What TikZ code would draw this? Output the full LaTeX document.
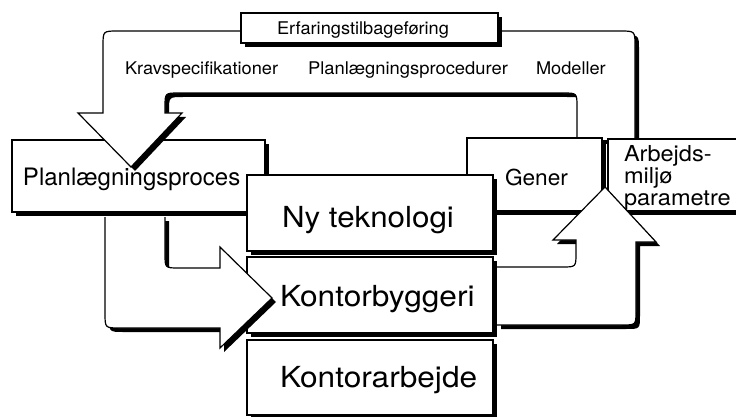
\documentclass[tikz,border=0pt]{standalone}
\usepackage{fontspec}
\setmainfont{TeX Gyre Heros}
\usepackage{graphicx}
\usetikzlibrary{shadows}
\newcommand\xs[2]{\scalebox{#1}[1]{#2}}
\newcommand\fsbig{\fontsize{29}{30}\selectfont}
\newcommand\fsmid{\fontsize{22}{22}\selectfont}
\newcommand\fsplan{\fontsize{24}{24}\selectfont}
\newcommand\fssmall{\fontsize{17.5}{18}\selectfont}
\begin{document}
\begin{tikzpicture}[x=1pt,y=-1pt,line width=1.2pt,line join=miter,
  box/.style={draw=black,fill=white,line width=1.2pt,inner sep=0pt,outer sep=0pt,
    anchor=north west,
    drop shadow={shadow xshift=4pt,shadow yshift=-4pt,fill=black,opacity=1}},
  lbl/.style={inner sep=0pt,outer sep=0pt,anchor=base west,text=black},
  shadowfill/.style={fill=black,shift={(4,4)}}]
\useasboundingbox (0,0) rectangle (736,417);
\fill[white] (0,0) rectangle (736,417);
\clip (0,0) rectangle (736,417);

% Planlaegningsproces box
\node[box,minimum width=253pt,minimum height=72pt] (plan) at (12,140) {};

% big U-shaped feedback arrow
\def\uarrowpath{(635,140) -- (635,46) .. controls (635,31) .. (620,31)
  -- (118,31) .. controls (103,31) .. (103,46) -- (103,113) -- (78,113)
  -- (131,167) -- (182,113) -- (165,113) -- (165,107)
  .. controls (165,93) .. (179,93) -- (563,93) .. controls (577,93) .. (577,107)
  -- (577,140)}
\fill[shadowfill] \uarrowpath -- cycle;
\fill[white] \uarrowpath -- cycle;
\draw \uarrowpath;

% boxes
\node[box,minimum width=257pt,minimum height=30pt] (erf) at (241,13) {};
\node[box,minimum width=135pt,minimum height=73pt] (gener) at (467,138) {};
\node[box,minimum width=140pt,minimum height=72pt] (arb) at (608,139) {};
\node[box,minimum width=246pt,minimum height=76pt] (ny) at (247,175) {};
\node[box,minimum width=246pt,minimum height=76pt] (bygg) at (247,257) {};
\node[box,minimum width=246pt,minimum height=75pt] (arbejde) at (247,340) {};

% arrow from Planlaegningsproces into Kontorbyggeri
\def\rarrowpath{(165,217) -- (165,254) .. controls (165,268) .. (179,268)
  -- (220,268) -- (220,247) -- (272,298) -- (220,348) -- (220,328)
  -- (120,328) .. controls (105,328) .. (105,313) -- (105,217)}
\fill[shadowfill] \rarrowpath -- cycle;
\fill[white] \rarrowpath -- cycle;
\draw \rarrowpath;

% arrow from Kontorbyggeri up to Gener / Arbejdsmiljoe parametre
\def\uparrowpath{(497,267) -- (562,267) .. controls (576,267) .. (576,253)
  -- (576,240) -- (553,240) -- (605,187) -- (656,242) -- (636,242)
  -- (636,311) .. controls (636,325) .. (622,325) -- (497,325)}
\fill[shadowfill] \uparrowpath -- cycle;
\fill[white] \uparrowpath -- cycle;
\draw \uparrowpath;

% texts
\node[lbl,font=\fssmall] (terf) at (277,35) {\xs{1.04}{Erfaringstilbageføring}};
\node[lbl,font=\fssmall] (tkrav) at (125,75) {\xs{1.04}{Kravspecifikationer}};
\node[lbl,font=\fssmall] (tproc) at (308,75) {\xs{1.05}{Planlægningsprocedurer}};
\node[lbl,font=\fssmall] (tmod) at (536,75) {\xs{1.04}{Modeller}};
\node[lbl,font=\fsplan] (tplan) at (23,185) {Planlægningsproces};
\node[lbl,font=\fsmid] (tgener) at (505,185) {\xs{1.03}{Gener}};
\node[lbl,font=\fsmid] (tarb1) at (624,161.5) {\xs{1.07}{Arbejds-}};
\node[lbl,font=\fsmid] (tarb2) at (624,183.5) {\xs{1.07}{miljø}};
\node[lbl,font=\fsmid] (tarb3) at (624,205.5) {\xs{1.07}{parametre}};
\node[lbl,font=\fsbig] (tny) at (282,227) {\xs{1.08}{Ny teknologi}};
\node[lbl,font=\fsbig] (tbygg) at (280,306) {\xs{1.09}{Kontorbyggeri}};
\node[lbl,font=\fsbig] (tarbejde) at (280,387) {\xs{1.09}{Kontorarbejde}};
\end{tikzpicture}
\end{document}
